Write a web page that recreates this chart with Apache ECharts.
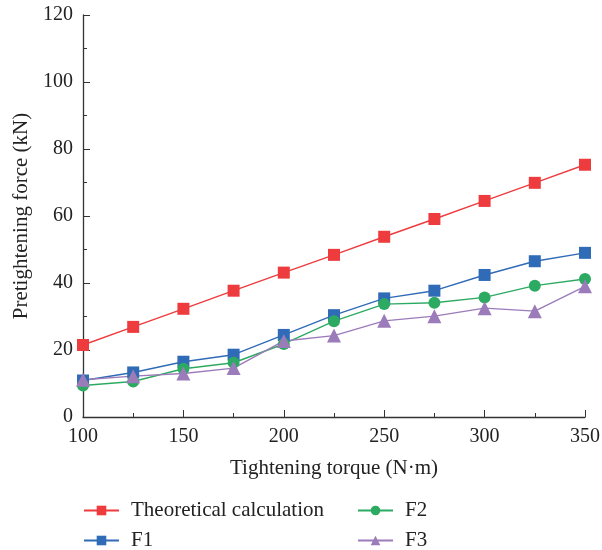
<!DOCTYPE html>
<html>
<head>
<meta charset="utf-8">
<script src="https://cdn.jsdelivr.net/npm/echarts@6/dist/echarts.min.js"></script>
<style>html,body{margin:0;padding:0;background:#fff}#c{width:602px;height:550px}</style>
</head>
<body>
<div id="c"></div>
<script>
const torque = [100,125,150,175,200,225,250,275,300,325,350];
const theoretical = [21.5,26.9,32.3,37.7,43.1,48.4,53.8,59.1,64.5,69.9,75.3];
const f1 = [10.9,13.3,16.5,18.6,24.5,30.4,35.4,37.7,42.4,46.5,49.0];
const f2 = [9.4,10.6,14.4,16.2,21.8,28.6,33.7,34.1,35.7,39.2,41.2];
const f3 = [11.1,12.2,13.0,14.6,22.7,24.3,28.7,30.1,32.5,31.6,39.0];
const seriesNames = ['Theoretical calculation','F1','F2','F3'];
const yTicks = {min:0,max:120,interval:20};
const xTicks = {min:100,max:350,interval:50};

const font = 'Liberation Serif';
const pair = (arr) => torque.map((t,i)=>[t,arr[i]]);
const mk = (name, data, color, symbol, size) => ({
  name, type:'line', data: pair(data), symbol, symbolSize: size,
  lineStyle:{color, width:1.4}, itemStyle:{color}, z: 2
});
const legendPos = [[83,500],[83,530],[357,500],[357,530]];
const legends = seriesNames.map((n,i)=>({
  data:[n], orient:'horizontal', left:legendPos[i][0], top:legendPos[i][1], padding:0,
  itemWidth:35, itemHeight:12,
  textStyle:{fontSize:21,color:'#222',fontFamily:font,padding:[0,0,0,7]}
}));
const chart = echarts.init(document.getElementById('c'));
chart.setOption({
  animation:false,
  textStyle:{fontFamily:font},
  grid:{left:83,right:17,top:15,bottom:133,containLabel:false,outerBoundsMode:'none'},
  xAxis:{type:'value',min:xTicks.min,max:xTicks.max,interval:xTicks.interval,
    name:'Tightening torque (N·m)',nameLocation:'middle',nameGap:41,
    nameTextStyle:{fontSize:21,color:'#222',fontFamily:font},
    axisLine:{lineStyle:{color:'#333',width:1.3}},
    axisTick:{inside:true,length:7,lineStyle:{color:'#333'}},
    minorTick:{show:true,splitNumber:2,length:4,lineStyle:{color:'#333'}},
    splitLine:{show:false},
    axisLabel:{fontSize:20,color:'#222',margin:10,fontFamily:font}},
  yAxis:{type:'value',min:yTicks.min,max:yTicks.max,interval:yTicks.interval,
    name:'Pretightening force (kN)',nameLocation:'middle',nameGap:50,
    nameTextStyle:{fontSize:21,color:'#222',fontFamily:font},
    axisLine:{show:true,lineStyle:{color:'#333',width:1.3}},
    axisTick:{show:true,inside:true,length:7,lineStyle:{color:'#333'}},
    minorTick:{show:true,splitNumber:2,length:4,lineStyle:{color:'#333'}},
    splitLine:{show:false},
    axisLabel:{fontSize:20,color:'#222',margin:10,fontFamily:font}},
  legend:legends,
  series:[
    mk(seriesNames[0],theoretical,'#EE3B3E','rect',12),
    mk(seriesNames[1],f1,'#2F6BB6','rect',12),
    mk(seriesNames[2],f2,'#2DAA62','circle',12),
    mk(seriesNames[3],f3,'#9C7BBA','triangle',14)
  ]
});
</script>
</body>
</html>
